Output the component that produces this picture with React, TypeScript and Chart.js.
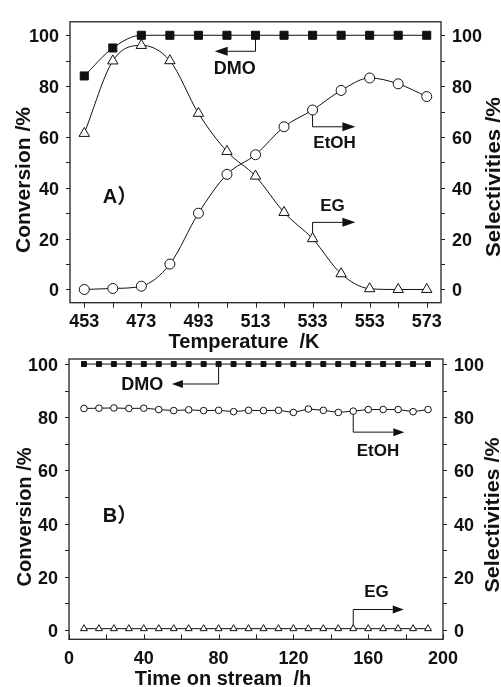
import React, { useEffect, useRef } from 'react';
import { Chart, registerables } from 'chart.js';

Chart.register(...registerables);

// ---------- Panel A data ----------
const tempK = [453, 463, 473, 483, 493, 503, 513, 523, 533, 543, 553, 563, 573];
const dmoConvA = [84, 95, 100, 100, 100, 100, 100, 100, 100, 100, 100, 100, 100];
const egSelA = [61.4, 89.9, 96, 90, 69.3, 54.3, 44.6, 30.3, 20, 6.2, 0.3, 0, 0];
const etohSelA = [0, 0.4, 1.3, 10, 30, 45.3, 53, 64, 70.6, 78.3, 83.2, 80.9, 75.9];
const tempTickLabels = [453, 473, 493, 513, 533, 553, 573];
const pctTickLabels = [0, 20, 40, 60, 80, 100];
const pctTickMarks = [0, 10, 20, 30, 40, 50, 60, 70, 80, 90, 100];

// ---------- Panel B data ----------
const timeH = [8, 16, 24, 32, 40, 48, 56, 64, 72, 80, 88, 96, 104, 112, 120, 128, 136, 144, 152, 160, 168, 176, 184, 192];
const dmoConvB = [100, 100, 100, 100, 100, 100, 100, 100, 100, 100, 100, 100, 100, 100, 100, 100, 100, 100, 100, 100, 100, 100, 100, 100];
const etohSelB = [83.3, 83.4, 83.5, 83.3, 83.4, 82.9, 82.5, 82.8, 82.5, 82.6, 82.1, 82.6, 82.5, 82.6, 81.8, 83.1, 82.6, 81.8, 82.3, 82.9, 82.9, 82.9, 82.1, 82.9];
const egSelB = [0.5, 0.5, 0.5, 0.5, 0.5, 0.5, 0.5, 0.5, 0.5, 0.5, 0.5, 0.5, 0.5, 0.5, 0.5, 0.5, 0.5, 0.5, 0.5, 0.5, 0.5, 0.5, 0.5, 0.5];
const timeTickLabels = [0, 40, 80, 120, 160, 200];
const timeTickMarks = [0, 20, 40, 60, 80, 100, 120, 140, 160, 180, 200];

const W = 501;
const H = 687;
const FONT = '"Liberation Sans", Arial, Helvetica, sans-serif';
const INK = '#111';

type Pt = [number, number];
interface Arrow { pts: Pt[]; head: number; half: number; }
interface Label { text: string; x: number; y: number; size: number; bold: boolean; }
interface VTitle { text: string; cx: number; cy: number; len: number; }
interface HTitle { text: string; cx: number; base: number; }
interface Decor {
  xMarks: number[]; xDir: number; yMarks: number[];
  arrows: Arrow[]; labels: Label[];
  left: VTitle; right: VTitle; bottom: HTitle;
}

function decorPlugin(d: Decor) {
  return {
    id: 'decor',
    beforeDatasetsDraw(chart: any) {
      const ctx = chart.ctx;
      const xs = chart.scales.x, ys = chart.scales.y;
      ctx.save();
      ctx.strokeStyle = INK;
      ctx.fillStyle = INK;
      ctx.lineWidth = 1;
      d.arrows.forEach((a) => {
        const p = a.pts.map(([vx, vy]) => [xs.getPixelForValue(vx), ys.getPixelForValue(vy)]);
        const n = p.length;
        const [tx, ty] = p[n - 1];
        const [px, py] = p[n - 2];
        const ang = Math.atan2(ty - py, tx - px);
        const bx = tx - Math.cos(ang) * a.head;
        const by = ty - Math.sin(ang) * a.head;
        ctx.beginPath();
        ctx.moveTo(p[0][0], p[0][1]);
        for (let i = 1; i < n - 1; i++) ctx.lineTo(p[i][0], p[i][1]);
        ctx.lineTo(bx, by);
        ctx.stroke();
        ctx.beginPath();
        ctx.moveTo(tx, ty);
        ctx.lineTo(bx - Math.sin(ang) * a.half, by + Math.cos(ang) * a.half);
        ctx.lineTo(bx + Math.sin(ang) * a.half, by - Math.cos(ang) * a.half);
        ctx.closePath();
        ctx.fill();
      });
      d.labels.forEach((l) => {
        ctx.font = `${l.bold ? 'bold ' : ''}${l.size}px ${FONT}, "Noto Sans CJK SC"`;
        ctx.textAlign = 'center';
        ctx.textBaseline = 'middle';
        ctx.fillText(l.text, xs.getPixelForValue(l.x), ys.getPixelForValue(l.y));
      });
      ctx.restore();
    },
    afterDraw(chart: any) {
      const ctx = chart.ctx;
      const { left, right, top, bottom } = chart.chartArea;
      const xs = chart.scales.x, ys = chart.scales.y;
      ctx.save();
      ctx.strokeStyle = '#222';
      ctx.lineWidth = 1.3;
      ctx.strokeRect(left, top, right - left, bottom - top);
      ctx.lineWidth = 1;
      d.xMarks.forEach((v) => {
        const px = Math.round(xs.getPixelForValue(v)) + 0.5;
        ctx.beginPath();
        ctx.moveTo(px, bottom);
        ctx.lineTo(px, bottom + d.xDir * 5);
        ctx.stroke();
      });
      d.yMarks.forEach((v) => {
        const py = Math.round(ys.getPixelForValue(v)) + 0.5;
        ctx.beginPath();
        ctx.moveTo(left, py);
        ctx.lineTo(left - 4, py);
        ctx.moveTo(right, py);
        ctx.lineTo(right + 4, py);
        ctx.stroke();
      });
      ctx.fillStyle = INK;
      ctx.font = `bold 20px ${FONT}`;
      [d.left, d.right].forEach((t) => {
        ctx.save();
        ctx.translate(t.cx, t.cy);
        ctx.rotate(-Math.PI / 2);
        const w = ctx.measureText(t.text).width;
        ctx.scale(t.len / w, 1);
        ctx.textAlign = 'center';
        ctx.textBaseline = 'middle';
        ctx.fillText(t.text, 0, 0);
        ctx.restore();
      });
      ctx.textAlign = 'center';
      ctx.textBaseline = 'alphabetic';
      ctx.fillText(d.bottom.text, d.bottom.cx, d.bottom.base);
      ctx.restore();
    },
  };
}

const tickFont = { family: FONT, size: 18, weight: 'bold' as const };

function makeScales(xmin: number, xmax: number, xTicks: number[], ymin: number, ymax: number, leftW: number, rightW: number) {
  const common = {
    grid: { display: false, drawTicks: false },
    border: { display: false },
  };
  const yAxis = (pos: 'left' | 'right', w: number) => ({
    ...common,
    type: 'linear' as const,
    position: pos,
    min: ymin,
    max: ymax,
    display: true,
    afterBuildTicks: (s: any) => { s.ticks = pctTickLabels.map((v) => ({ value: v })); },
    afterFit: (s: any) => { s.width = w; },
    ticks: { font: tickFont, color: INK, padding: 11, autoSkip: false, labelOffset: 2 },
  });
  return {
    x: {
      ...common,
      type: 'linear' as const,
      min: xmin,
      max: xmax,
      afterBuildTicks: (s: any) => { s.ticks = xTicks.map((v) => ({ value: v })); },
      afterFit: (s: any) => { s.height = 40; },
      ticks: { font: tickFont, color: INK, padding: 9, autoSkip: false, maxRotation: 0 },
    },
    y: yAxis('left', leftW),
    y2: yAxis('right', rightW),
  };
}

function series(xs: number[], ys: number[], style: string, r: number, filled: boolean, tension: number) {
  return {
    data: xs.map((x, i) => ({ x, y: ys[i] })),
    borderColor: INK,
    borderWidth: 1,
    pointStyle: style,
    pointRadius: r,
    pointBorderWidth: 1,
    pointBorderColor: INK,
    pointBackgroundColor: filled ? INK : '#fff',
    tension,
    cubicInterpolationMode: tension > 0 ? ('monotone' as const) : ('default' as const),
    yAxisID: 'y',
  };
}

export default function App() {
  const refA = useRef<HTMLCanvasElement>(null);
  const refB = useRef<HTMLCanvasElement>(null);

  useEffect(() => {
    const decorA: Decor = {
      xMarks: tempK, xDir: 1, yMarks: pctTickMarks,
      arrows: [
        { pts: [[513, 100], [513, 93.7], [498.7, 93.7]], head: 13, half: 4.5 },
        { pts: [[533, 70.6], [533, 64], [548, 64]], head: 13, half: 4.5 },
        { pts: [[533, 20], [533, 26.4], [548, 26.4]], head: 13, half: 4.5 },
      ],
      labels: [
        { text: 'DMO', x: 505.7, y: 86.8, size: 18, bold: true },
        { text: 'EtOH', x: 540.7, y: 57.5, size: 17, bold: true },
        { text: 'EG', x: 540, y: 32.8, size: 17, bold: true },
        { text: 'A）', x: 465.5, y: 36, size: 20, bold: true },
      ],
      left: { text: 'Conversion /%', cx: 24, cy: 180, len: 146 },
      right: { text: 'Selectivities /%', cx: 494, cy: 177, len: 160 },
      bottom: { text: 'Temperature  /K', cx: 244, base: 348 },
    };
    const decorB: Decor = {
      xMarks: timeTickMarks, xDir: -1, yMarks: pctTickMarks,
      arrows: [
        { pts: [[80, 100], [80, 92.5], [55, 92.5]], head: 11, half: 4 },
        { pts: [[152, 82.3], [152, 74.4], [179.3, 74.4]], head: 11, half: 4 },
        { pts: [[152, 0.5], [152, 7.7], [179, 7.7]], head: 11, half: 4 },
      ],
      labels: [
        { text: 'DMO', x: 39.2, y: 92.1, size: 18, bold: true },
        { text: 'EtOH', x: 165.2, y: 67.3, size: 17, bold: true },
        { text: 'EG', x: 164.4, y: 14.1, size: 17, bold: true },
        { text: 'B）', x: 27.3, y: 42.8, size: 20, bold: true },
      ],
      left: { text: 'Conversion /%', cx: 25, cy: 517, len: 139 },
      right: { text: 'Selectivities /%', cx: 493, cy: 515, len: 155 },
      bottom: { text: 'Time on stream  /h', cx: 223, base: 685 },
    };

    const chartA = new Chart(refA.current as HTMLCanvasElement, {
      type: 'line',
      data: {
        datasets: [
          series(tempK, dmoConvA, 'rect', 5.7, true, 0.4),
          series(tempK, etohSelA, 'circle', 5, false, 0.4),
          series(tempK, egSelA, 'triangle', 6, false, 0.4),
        ] as any,
      },
      options: {
        responsive: false,
        maintainAspectRatio: false,
        animation: false,
        layout: { padding: { top: 16, bottom: H - 302.7 - 40, left: 0, right: 0 } },
        plugins: { legend: { display: false }, tooltip: { enabled: false } },
        scales: makeScales(448, 578, tempTickLabels, -5.2, 105.3, 70, W - 441) as any,
      },
      plugins: [decorPlugin(decorA)],
    });

    const chartB = new Chart(refB.current as HTMLCanvasElement, {
      type: 'line',
      data: {
        datasets: [
          series(timeH, dmoConvB, 'rect', 3.5, true, 0),
          series(timeH, etohSelB, 'circle', 3.3, false, 0),
          series(timeH, egSelB, 'triangle', 4, false, 0),
        ] as any,
      },
      options: {
        responsive: false,
        maintainAspectRatio: false,
        animation: false,
        layout: { padding: { top: 359, bottom: H - 639.3 - 40, left: 0, right: 0 } },
        plugins: { legend: { display: false }, tooltip: { enabled: false } },
        scales: makeScales(0, 200, timeTickLabels, -3.5, 101.9, 69, W - 443) as any,
      },
      plugins: [decorPlugin(decorB)],
    });

    return () => {
      chartA.destroy();
      chartB.destroy();
    };
  }, []);

  const cv: React.CSSProperties = { position: 'absolute', left: 0, top: 0, width: W, height: H };
  return (
    <div style={{ position: 'absolute', left: 0, top: 0, width: W, height: H, background: '#fff', overflow: 'hidden' }}>
      <canvas ref={refA} width={W} height={H} style={cv} />
      <canvas ref={refB} width={W} height={H} style={cv} />
    </div>
  );
}
